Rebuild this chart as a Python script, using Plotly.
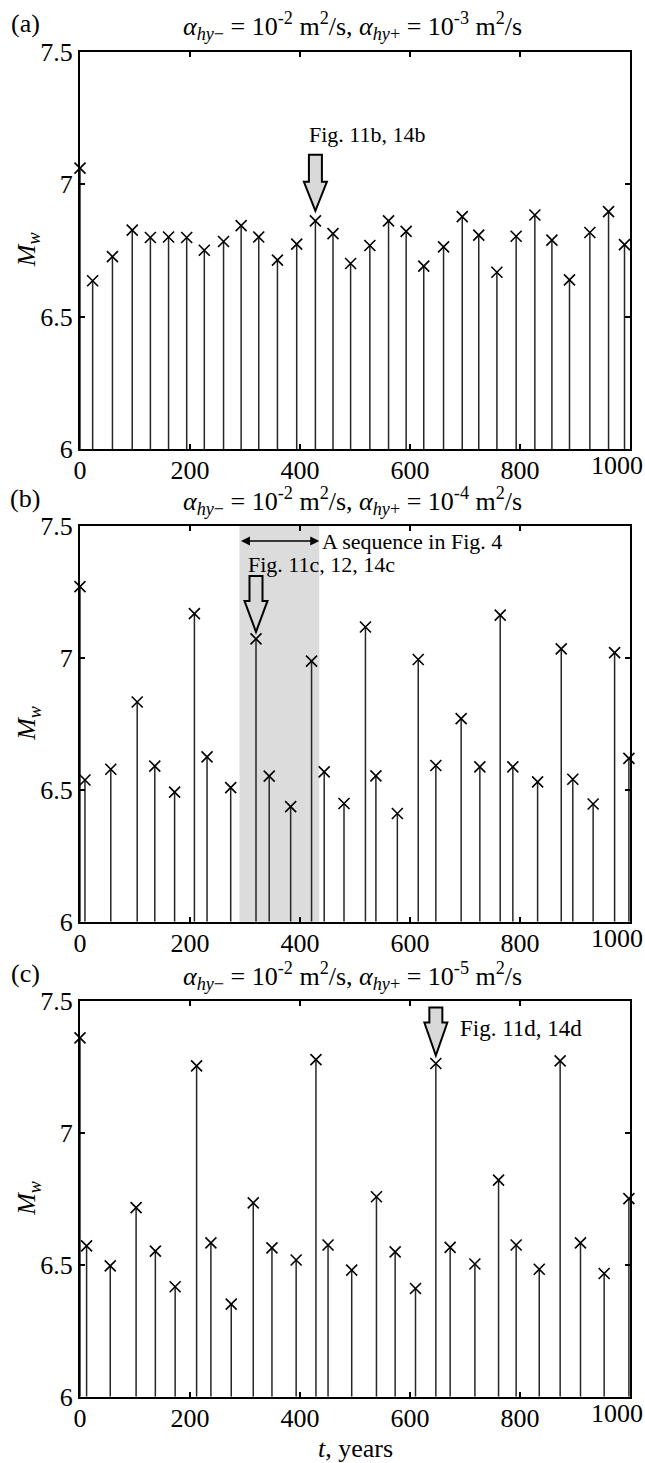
import plotly.graph_objects as go

# ---- event catalogues: time of each event (years) and its moment magnitude ----
t_a = [0, 23, 59, 95, 128, 161, 194, 226, 261, 293, 325, 359, 394, 428, 460, 492,
       527, 561, 593, 625, 661, 695, 725, 758, 793, 827, 858, 890, 927, 961, 990]
mw_a = [7.06, 6.635, 6.726, 6.826, 6.798, 6.80, 6.798, 6.75, 6.783, 6.843, 6.80,
        6.713, 6.773, 6.861, 6.813, 6.70, 6.768, 6.861, 6.821, 6.69, 6.763, 6.877,
        6.807, 6.667, 6.803, 6.883, 6.788, 6.638, 6.817, 6.896, 6.771]

t_b = [0, 9, 56, 104, 136, 172, 208, 231, 274, 320, 344, 383, 421, 444, 480, 519,
       538, 577, 615, 647, 693, 727, 764, 787, 832, 875, 896, 933, 972, 998]
mw_b = [7.27, 6.537, 6.578, 6.833, 6.59, 6.491, 7.168, 6.625, 6.508, 7.072, 6.552,
        6.436, 6.988, 6.568, 6.448, 7.117, 6.553, 6.41, 6.994, 6.592, 6.77, 6.587,
        7.162, 6.587, 6.53, 7.034, 6.54, 6.446, 7.02, 6.619]

t_c = [0, 12, 55, 102, 137, 173, 212, 238, 275, 315, 349, 393, 429, 451, 494, 539,
       573, 610, 647, 673, 718, 761, 793, 835, 873, 910, 953, 998]
mw_c = [7.36, 6.572, 6.496, 6.717, 6.552, 6.417, 7.254, 6.583, 6.351, 6.735, 6.564,
        6.518, 7.278, 6.575, 6.48, 6.758, 6.549, 6.41, 7.263, 6.566, 6.503, 6.821,
        6.575, 6.483, 7.273, 6.583, 6.467, 6.751]

panel_letters = ["(a)", "(b)", "(c)"]
alpha_plus_exp = ["-3", "-4", "-5"]
alpha_minus_exp = "-2"

# event highlighted by a block arrow in each panel, with its cross-reference
arrow_index = [13, 9, 18]
arrow_labels = ["Fig. 11b, 14b", "Fig. 11c, 12, 14c", "Fig. 11d, 14d"]

# window of panel (b) shown as a sequence elsewhere
seq_window = [290, 435]
seq_label = "A sequence in Fig. 4"

x_ticks = [0, 200, 400, 600, 800, 1000]
y_ticks = [6, 6.5, 7, 7.5]
x_range = [0, 1000]
y_range = [6, 7.5]

# ---- page geometry (pixels) ----
W, H = 645, 1463
ML, MR = 80, 15
panel_px = [(51.5, 449.0), (526.0, 921.7), (1001.0, 1396.7)]   # (top, bottom)


def yp(px):
    return 1 - px / H


def xp(px):
    return (px - ML) / (W - ML - MR)


SERIF = "Liberation Serif"
INK = "black"

fig = go.Figure()

series = [(t_a, mw_a), (t_b, mw_b), (t_c, mw_c)]
for i, (t, mw) in enumerate(series):
    sfx = "" if i == 0 else str(i + 1)
    fig.add_trace(go.Scatter(
        x=t, y=mw, mode="markers",
        xaxis="x" + sfx, yaxis="y" + sfx,
        marker=dict(symbol="x-thin-open", size=11, color=INK,
                    line=dict(width=1.6, color=INK)),
        error_y=dict(type="data", symmetric=False,
                     array=[0] * len(mw),
                     arrayminus=[m - y_range[0] for m in mw],
                     width=0, thickness=1.5, color="#262626"),
        cliponaxis=False, showlegend=False, hoverinfo="skip",
    ))

axis_common = dict(
    showline=True, linewidth=2, linecolor=INK, mirror="ticks",
    ticks="inside", ticklen=5, tickwidth=1.5, tickcolor=INK,
    showgrid=False, zeroline=False, automargin=False,
    tickfont=dict(family=SERIF, size=26, color=INK),
)

layout = dict(
    width=W, height=H,
    margin=dict(l=ML, r=MR, t=0, b=0),
    paper_bgcolor="white", plot_bgcolor="white",
    showlegend=False,
    font=dict(family=SERIF, color=INK),
)

shapes = []
annotations = []

for i, (top, bot) in enumerate(panel_px):
    sfx = "" if i == 0 else str(i + 1)
    xname = "xaxis" + sfx
    yname = "yaxis" + sfx
    layout[xname] = dict(axis_common, domain=[0, 1], range=x_range,
                         tickvals=x_ticks,
                         ticktext=[str(v) for v in x_ticks[:-1]] + [""],
                         ticklabelstandoff=-3,
                         anchor="y" + sfx)
    layout[yname] = dict(axis_common, domain=[yp(bot), yp(top)], range=y_range,
                         tickvals=y_ticks,
                         ticktext=["6", "6.5", "7", "7.5"],
                         anchor="x" + sfx)

    # last x tick label, pulled inside the page
    annotations.append(dict(
        text=str(x_ticks[-1]), x=x_ticks[-1], xref="x" + sfx,
        y=0, yref="y" + sfx + " domain", yanchor="top", yshift=0,
        xanchor="center", xshift=-13, showarrow=False,
        font=dict(family=SERIF, size=26, color=INK)))

    # y axis title
    annotations.append(dict(
        text="<i>M</i><sub><i>w</i></sub>", textangle=-90,
        x=xp(28), xref="paper", y=0.5, yref="y" + sfx + " domain",
        xanchor="center", yanchor="middle", showarrow=False,
        font=dict(family=SERIF, size=26, color=INK)))

    # panel letter
    annotations.append(dict(
        text=panel_letters[i], x=xp(25), xref="paper", y=yp(top - 28),
        yref="paper", xanchor="center", yanchor="middle", showarrow=False,
        font=dict(family=SERIF, size=26, color=INK)))

    # panel title with the two diffusivities
    title = ("<i>α</i><sub><i>hy</i>−</sub> = 10<sup>%s</sup> m<sup>2</sup>/s, "
             "<i>α</i><sub><i>hy</i>+</sub> = 10<sup>%s</sup> m<sup>2</sup>/s"
             % (alpha_minus_exp, alpha_plus_exp[i]))
    annotations.append(dict(
        text=title, x=xp(352), xref="paper", y=yp(top - 25), yref="paper",
        xanchor="center", yanchor="middle", showarrow=False,
        font=dict(family=SERIF, size=26, color=INK)))

# block arrows pointing down at the highlighted events
arrow_geom = [(10, 39, 66), (7, 38, 63), (8, 41, 56)]   # tip, head base, tail (px above event)
label_offsets = [(-8, 86), (-10, 74), (22, 35)]          # (x shift, y shift) of label
label_sizes = [22, 22, 23]
for i, (t, mw) in enumerate(series):
    sfx = "" if i == 0 else str(i + 1)
    k = arrow_index[i]
    tip, head, tail = arrow_geom[i]
    path = ("M 0,{tip} L -11.5,{hd} L -6.5,{hd} L -6.5,{tl} L 6.5,{tl} "
            "L 6.5,{hd} L 11.5,{hd} Z").format(tip=tip, hd=head, tl=tail)
    shapes.append(dict(
        type="path", path=path, xref="x" + sfx, yref="y" + sfx,
        xsizemode="pixel", ysizemode="pixel", xanchor=t[k], yanchor=mw[k],
        fillcolor="#d9d9d9", line=dict(color=INK, width=2), layer="above"))
    dx, dy = label_offsets[i]
    annotations.append(dict(
        text=arrow_labels[i], x=t[k], xref="x" + sfx, y=mw[k], yref="y" + sfx,
        xanchor="left", yanchor="middle", xshift=dx, yshift=dy,
        showarrow=False, font=dict(family=SERIF, size=label_sizes[i], color=INK)))

# shaded sequence window in panel (b)
shapes.append(dict(
    type="rect", xref="x2", yref="y2 domain",
    x0=seq_window[0], x1=seq_window[1], y0=0, y1=1,
    fillcolor="#dcdcdc", line=dict(width=0), layer="below"))
annotations.append(dict(
    text="", x=seq_window[1], y=1, xref="x2", yref="y2 domain", yshift=-15,
    ax=seq_window[0], ay=1, axref="x2", ayref="y2 domain",
    showarrow=True, arrowside="end+start", arrowhead=2, startarrowhead=2,
    arrowsize=1.2, startarrowsize=1.2, arrowwidth=1.5, arrowcolor=INK,
    standoff=0, startstandoff=0))
annotations.append(dict(
    text=seq_label, x=seq_window[1], xref="x2", y=1, yref="y2 domain",
    yshift=-15, xshift=1, xanchor="left", yanchor="middle", showarrow=False,
    font=dict(family=SERIF, size=22, color=INK)))

# x axis title
annotations.append(dict(
    text="<i>t</i>, years", x=xp(355), xref="paper", y=yp(1448), yref="paper",
    xanchor="center", yanchor="middle", showarrow=False,
    font=dict(family=SERIF, size=26, color=INK)))

layout["shapes"] = shapes
layout["annotations"] = annotations
fig.update_layout(**layout)

fig.write_html("out.html")
